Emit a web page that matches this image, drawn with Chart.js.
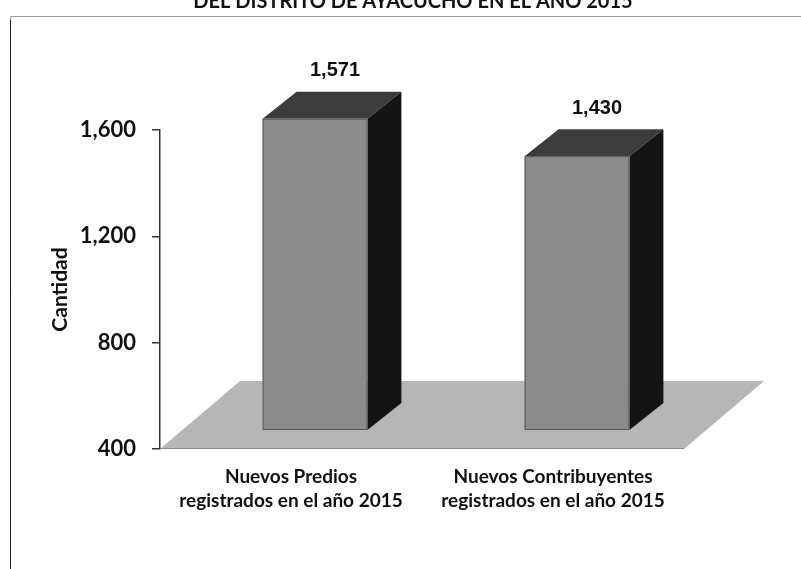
<!DOCTYPE html>
<html>
<head>
<meta charset="utf-8">
<style>
  html, body { margin: 0; padding: 0; background: #fff; }
  #wrap { width: 801px; height: 569px; }
</style>
<script src="https://cdn.jsdelivr.net/npm/chart.js@4.4.0/dist/chart.umd.min.js"></script>
</head>
<body>
<div id="wrap"><canvas id="myChart" width="801" height="569"></canvas></div>
<script>
// Data
const categories = [
    ['Nuevos Predios', 'registrados en el año 2015'],
    ['Nuevos Contribuyentes', 'registrados en el año 2015']
];
const cantidades = [1571, 1430];
const yTicks = [400, 800, 1200, 1600];
const titleText = 'DEL DISTRITO DE AYACUCHO EN EL AÑO 2015';

// 3D look: offsets of the bar front from the axis plane and the bar depth
const frontDx = 24, frontDy = -19;
const depthDx = 34, depthDy = -27;
const floorDx = 80, floorDy = -68;

const fmt = v => v.toLocaleString('en-US');

const box3d = {
    id: 'box3d',
    beforeDraw(chart) {
        const c = chart.ctx;
        c.save();
        // frame around the figure
        c.strokeStyle = '#9a9a9a';
        c.lineWidth = 1;
        c.beginPath();
        c.moveTo(10.5, 569);
        c.lineTo(10.5, 16.5);
        c.lineTo(801, 16.5);
        c.stroke();
        c.strokeStyle = '#222';
        c.beginPath();
        c.moveTo(10.5, 569);
        c.lineTo(10.5, 20);
        c.stroke();
        // title (runs off the top edge)
        c.fillStyle = '#111';
        c.font = 'bold 20px Lato';
        c.textAlign = 'center';
        c.textBaseline = 'alphabetic';
        c.fillText(titleText, 413, 8);
        c.restore();
    },
    beforeDatasetsDraw(chart) {
        const c = chart.ctx;
        const a = chart.chartArea;
        c.save();
        // floor
        c.fillStyle = '#b6b6b6';
        c.beginPath();
        c.moveTo(a.left, a.bottom);
        c.lineTo(a.right, a.bottom);
        c.lineTo(a.right + floorDx, a.bottom + floorDy);
        c.lineTo(a.left + floorDx, a.bottom + floorDy);
        c.closePath();
        c.fill();
        c.strokeStyle = '#8a8a8a';
        c.lineWidth = 1;
        c.beginPath();
        c.moveTo(a.left, a.bottom - 0.5);
        c.lineTo(a.right, a.bottom - 0.5);
        c.stroke();
        c.restore();
    },
    afterDatasetsDraw(chart) {
        const c = chart.ctx;
        const meta = chart.getDatasetMeta(0);
        const baseY = chart.scales.y.getPixelForValue(chart.scales.y.min);
        c.save();
        meta.data.forEach((el, i) => {
            const x0 = el.x - el.width / 2 + frontDx;
            const x1 = el.x + el.width / 2 + frontDx;
            const yt = el.y + frontDy;
            const yb = baseY + frontDy;
            // top face
            c.fillStyle = '#3c3c3c';
            c.beginPath();
            c.moveTo(x0, yt);
            c.lineTo(x1, yt);
            c.lineTo(x1 + depthDx, yt + depthDy);
            c.lineTo(x0 + depthDx, yt + depthDy);
            c.closePath();
            c.fill();
            // side face
            c.fillStyle = '#141414';
            c.beginPath();
            c.moveTo(x1, yt);
            c.lineTo(x1 + depthDx, yt + depthDy);
            c.lineTo(x1 + depthDx, yb + depthDy);
            c.lineTo(x1, yb);
            c.closePath();
            c.fill();
            // front face
            c.fillStyle = '#8b8b8b';
            c.fillRect(x0, yt, x1 - x0, yb - yt);
            c.strokeStyle = '#5a5a5a';
            c.lineWidth = 1;
            c.strokeRect(x0 + 0.5, yt + 0.5, x1 - x0 - 1, yb - yt - 1);
            // value label
            c.fillStyle = '#111';
            c.font = 'bold 20px "Liberation Sans"';
            c.textAlign = 'center';
            c.textBaseline = 'middle';
            c.fillText(fmt(cantidades[i]), el.x + frontDx + 20, yt - 48);
        });
        c.restore();
    }
};

const ctx = document.getElementById('myChart').getContext('2d');
const myChart = new Chart(ctx, {
    type: 'bar',
    data: {
        labels: categories,
        datasets: [{
            data: cantidades,
            backgroundColor: 'rgba(0,0,0,0)',
            borderWidth: 0,
            barPercentage: 0.4,
            categoryPercentage: 1
        }]
    },
    options: {
        responsive: false,
        animation: false,
        layout: { padding: { top: 130, right: 117, bottom: 0, left: 0 } },
        plugins: {
            legend: { display: false },
            tooltip: { enabled: false }
        },
        scales: {
            x: {
                grid: { display: false },
                border: { display: false },
                afterFit: s => { s.height = 120; },
                ticks: {
                    color: '#111',
                    padding: 8,
                    maxRotation: 0,
                    font: { family: 'Lato', weight: 'bold', size: 19, lineHeight: 1.26 }
                }
            },
            y: {
                min: 400,
                max: 1600,
                afterFit: s => { s.width = 160; },
                afterBuildTicks: s => { s.ticks = yTicks.map(v => ({ value: v })); },
                grid: { drawOnChartArea: false, drawTicks: true, tickLength: 8, color: '#333', lineWidth: 1.5 },
                border: { display: true, color: '#333', width: 1.5 },
                ticks: {
                    color: '#111',
                    padding: 16,
                    callback: v => fmt(v),
                    font: { family: 'Lato', weight: 'bold', size: 22 }
                },
                title: {
                    display: true,
                    text: 'Cantidad',
                    color: '#111',
                    padding: { top: 48, bottom: 0 },
                    font: { family: 'Lato', weight: 'bold', size: 21 }
                }
            }
        }
    },
    plugins: [box3d]
});
</script>
</body>
</html>
